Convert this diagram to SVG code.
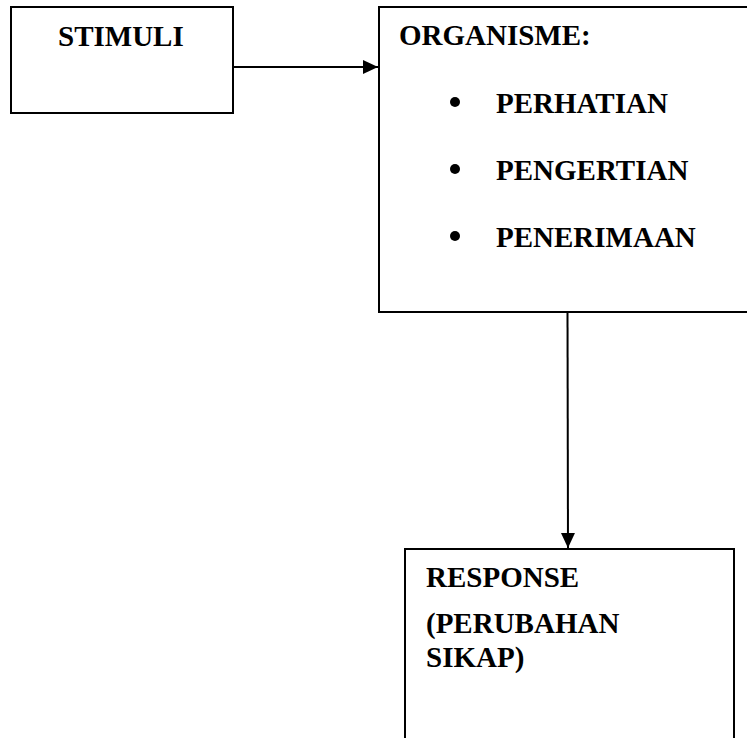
<svg xmlns="http://www.w3.org/2000/svg" width="747" height="738" viewBox="0 0 747 738">
<defs>
<style>
.box{fill:#fff;stroke:#000;stroke-width:2}
.t{font-family:"Liberation Serif","Times New Roman",serif;font-weight:bold;font-size:29px;fill:#000}
.conn{stroke:#000;stroke-width:2;fill:none}
</style>
<marker id="ah" viewBox="0 0 15 14" refX="15" refY="7" markerWidth="15" markerHeight="14" markerUnits="userSpaceOnUse" orient="auto">
<path d="M0,0 L15,7 L0,14 Z" fill="#000"/>
</marker>
</defs>
<rect width="747" height="738" fill="#fff"/>
<g id="stimuli">
<rect class="box" x="11" y="7" width="222" height="106"/>
<text class="t" x="58" y="46">STIMULI</text>
</g>
<g id="organisme">
<rect class="box" x="379" y="7" width="400" height="305"/>
<text class="t" x="399" y="45">ORGANISME:</text>
<circle cx="455" cy="102" r="5"/>
<text class="t" x="496" y="113">PERHATIAN</text>
<circle cx="455" cy="169" r="5"/>
<text class="t" x="496" y="180">PENGERTIAN</text>
<circle cx="455" cy="236" r="5"/>
<text class="t" x="496" y="247">PENERIMAAN</text>
</g>
<g id="response">
<rect class="box" x="405" y="549" width="329" height="220"/>
<text class="t" x="426" y="587">RESPONSE</text>
<text class="t" x="426" y="633">(PERUBAHAN</text>
<text class="t" x="426" y="667">SIKAP)</text>
</g>
<g id="connectors">
<line class="conn" x1="233" y1="67" x2="378" y2="67" marker-end="url(#ah)"/>
<line class="conn" x1="567.5" y1="312" x2="568" y2="548" marker-end="url(#ah)"/>
</g>
</svg>
